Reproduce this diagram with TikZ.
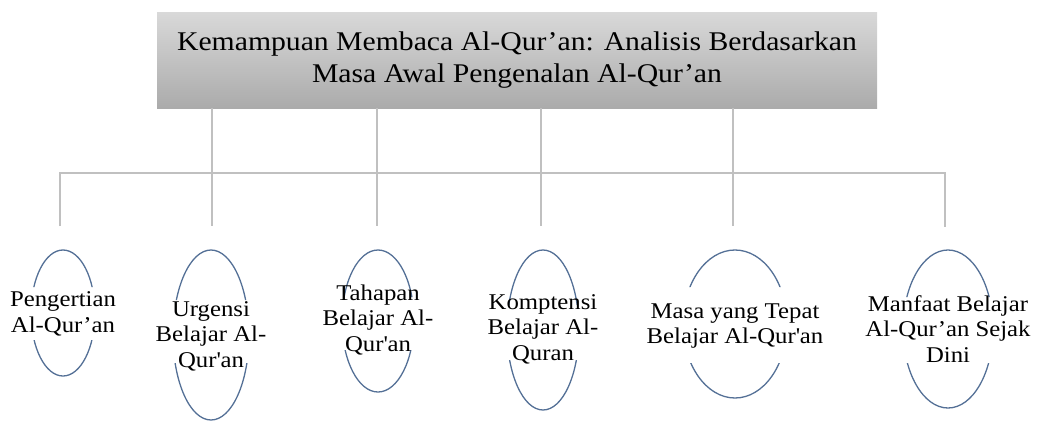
\documentclass[tikz,border=0pt]{standalone}
\usepackage{fontspec}
\setmainfont{Liberation Serif}[FakeStretch=1.1]
\definecolor{connGray}{RGB}{192,192,192}
\definecolor{ovalBlue}{RGB}{84,112,150}
\newcommand{\sq}{\textquotesingle}
\tikzset{
  conn/.style={draw=connGray, line width=2.6pt},
  titlebox/.style={rectangle, top color=black!15, bottom color=black!33, draw=none,
    minimum width=720pt, minimum height=96pt, inner sep=0pt, align=center,
    font=\fontsize{27}{32}\selectfont},
  oval/.style={ellipse, draw=ovalBlue, line width=1.3pt, inner sep=0pt},
  label/.style={align=center, inner sep=0pt, font=\fontsize{22.5}{25.5}\selectfont, text=black},
}
\usetikzlibrary{shapes.geometric}
\begin{document}
\begin{tikzpicture}[x=1pt, y=-1pt]
\useasboundingbox (0,0) rectangle (1038,423);
\node[titlebox] (title) at (517,60) {Kemampuan Membaca Al-Qur’an: Analisis Berdasarkan\\Masa Awal Pengenalan Al-Qur’an};

\coordinate (c1) at (60,226);
\coordinate (c2) at (212,226);
\coordinate (c3) at (377,226);
\coordinate (c4) at (541,226);
\coordinate (c5) at (733,226);
\coordinate (c6) at (945,227);
\coordinate (bar) at (0,173);
\draw[conn] (c1) |- (c6 |- bar) -- (c6);
\foreach \i in {2,3,4,5} { \draw[conn] (title.south -| c\i) -- (c\i); }

% ovals: drawn with middle part hidden behind the label
\begin{scope}
\clip (20,0) rectangle (110,287) (20,340) rectangle (110,423);
\node[oval, minimum width=64pt, minimum height=126pt] (e1) at (63,313) {};
\end{scope}
\begin{scope}
\clip (160,0) rectangle (260,300) (160,363) rectangle (260,423);
\node[oval, minimum width=76pt, minimum height=170pt] (e2) at (211,335) {};
\end{scope}
\begin{scope}
\clip (330,0) rectangle (430,297) (330,350) rectangle (430,423);
\node[oval, minimum width=72pt, minimum height=142pt] (e3) at (378,321) {};
\end{scope}
\begin{scope}
\clip (495,0) rectangle (595,305) (495,360) rectangle (595,423);
\node[oval, minimum width=72pt, minimum height=160pt] (e4) at (543,330) {};
\end{scope}
\begin{scope}
\clip (670,0) rectangle (800,287) (670,363) rectangle (800,423);
\node[oval, minimum width=104pt, minimum height=148pt] (e5) at (735,324) {};
\end{scope}
\begin{scope}
\clip (890,0) rectangle (1010,297) (890,363) rectangle (1010,423);
\node[oval, minimum width=90pt, minimum height=158pt] (e6) at (948,329) {};
\end{scope}

\node[label] (t1) at ([yshift=-1pt]e1.center) {Pengertian\\Al-Qur’an};
\node[label] (t2) at ([yshift=-1pt]e2.center) {Urgensi\\Belajar Al-\\Qur\sq an};
\node[label] (t3) at ([yshift=1pt]e3.center) {Tahapan\\Belajar Al-\\Qur\sq an};
\node[label] (t4) at ([yshift=1pt]e4.center) {Komptensi\\Belajar Al-\\Quran};
\node[label] (t5) at ([yshift=-2pt]e5.center) {Masa yang Tepat\\Belajar Al-Qur\sq an};
\node[label] (t6) at ([yshift=0pt]e6.center) {Manfaat Belajar\\Al-Qur’an Sejak\\Dini};
\end{tikzpicture}
\end{document}
